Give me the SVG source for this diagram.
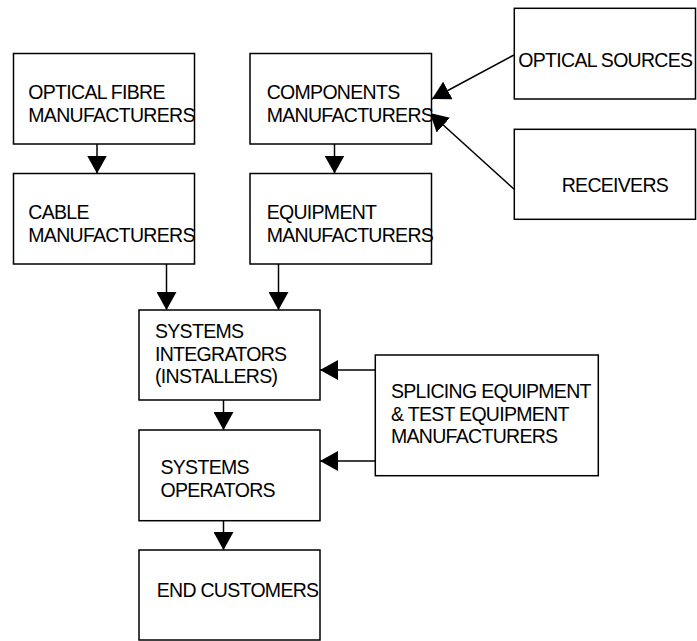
<svg xmlns="http://www.w3.org/2000/svg" width="697" height="641" viewBox="0 0 697 641">
  <style>
    .box { fill: #ffffff; stroke: #000000; stroke-width: 1.5; }
    .lbl { font-family: "Liberation Sans", Arial, sans-serif; font-size: 19.5px; letter-spacing: -0.7px; fill: #000000; }
    .edge { stroke: #000000; stroke-width: 1.5; fill: none; marker-end: url(#head); }
  </style>
  <defs>
    <marker id="head" markerUnits="userSpaceOnUse" markerWidth="18" markerHeight="20" refX="18" refY="10" orient="auto" viewBox="0 0 18 20">
      <path d="M0,0 L18,10 L0,20 Z" fill="#000000"/>
    </marker>
  </defs>
  <rect width="697" height="641" fill="#ffffff"/>

  <g id="connectors">
    <line class="edge" x1="97" y1="144" x2="97" y2="173.5"/>
    <line class="edge" x1="334.5" y1="144" x2="334.5" y2="173.5"/>
    <line class="edge" x1="514" y1="55" x2="432" y2="99"/>
    <line class="edge" x1="515" y1="190" x2="430" y2="113"/>
    <line class="edge" x1="166.5" y1="264" x2="166.5" y2="310"/>
    <line class="edge" x1="278.5" y1="264" x2="278.5" y2="310"/>
    <line class="edge" x1="375" y1="370" x2="320" y2="370"/>
    <line class="edge" x1="375" y1="461" x2="320" y2="461"/>
    <line class="edge" x1="223.5" y1="400" x2="223.5" y2="430"/>
    <line class="edge" x1="223.5" y1="521" x2="223.5" y2="550"/>
  </g>

  <g id="optical-fibre">
    <rect class="box" x="13.5" y="53.5" width="181" height="90.5"/>
    <text class="lbl" x="28.3" y="99">OPTICAL FIBRE</text>
    <text class="lbl" x="28.3" y="121.7">MANUFACTURERS</text>
  </g>

  <g id="cable">
    <rect class="box" x="13.5" y="173.5" width="181" height="90.5"/>
    <text class="lbl" x="28.3" y="219">CABLE</text>
    <text class="lbl" x="28.3" y="241.7">MANUFACTURERS</text>
  </g>

  <g id="components">
    <rect class="box" x="250" y="53.5" width="181.5" height="90.5"/>
    <text class="lbl" x="266.7" y="99">COMPONENTS</text>
    <text class="lbl" x="266.7" y="121.7">MANUFACTURERS</text>
  </g>

  <g id="equipment">
    <rect class="box" x="250" y="173.5" width="181.5" height="90.5"/>
    <text class="lbl" x="266.7" y="219">EQUIPMENT</text>
    <text class="lbl" x="266.7" y="241.7">MANUFACTURERS</text>
  </g>

  <g id="optical-sources">
    <rect class="box" x="514.3" y="8.3" width="181.2" height="90.7"/>
    <text class="lbl" x="518.3" y="66.5">OPTICAL SOURCES</text>
  </g>

  <g id="receivers">
    <rect class="box" x="514.3" y="129.3" width="181.2" height="90"/>
    <text class="lbl" x="561.7" y="191.5">RECEIVERS</text>
  </g>

  <g id="integrators">
    <rect class="box" x="139" y="310" width="181" height="90"/>
    <text class="lbl" x="155" y="337.7">SYSTEMS</text>
    <text class="lbl" x="155" y="360.5">INTEGRATORS</text>
    <text class="lbl" x="155" y="383">(INSTALLERS)</text>
  </g>

  <g id="splicing">
    <rect class="box" x="375.3" y="355" width="223" height="120.7"/>
    <text class="lbl" x="391" y="398.3">SPLICING EQUIPMENT</text>
    <text class="lbl" x="391" y="420.8">&amp; TEST EQUIPMENT</text>
    <text class="lbl" x="391" y="443.3">MANUFACTURERS</text>
  </g>

  <g id="operators">
    <rect class="box" x="139" y="430" width="181" height="90.7"/>
    <text class="lbl" x="160.5" y="474">SYSTEMS</text>
    <text class="lbl" x="160.5" y="497">OPERATORS</text>
  </g>

  <g id="end-customers">
    <rect class="box" x="139" y="550" width="181" height="90"/>
    <text class="lbl" x="156.7" y="596.5">END CUSTOMERS</text>
  </g>
</svg>
